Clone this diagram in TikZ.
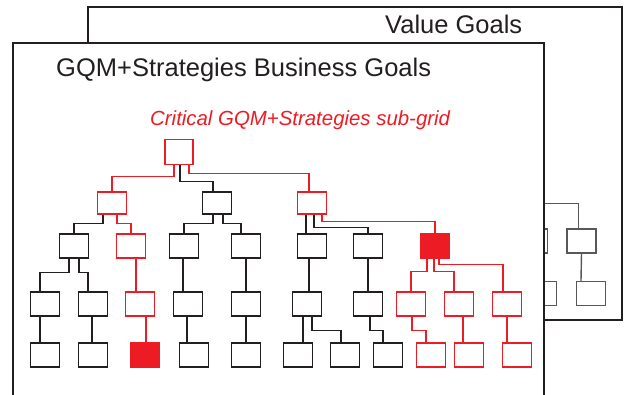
\documentclass[tikz,border=0pt]{standalone}
\usepackage{fontspec}
\setmainfont{Liberation Sans}
\usetikzlibrary{calc}
\definecolor{gred}{RGB}{237,28,36}
\definecolor{ink}{RGB}{35,31,32}
\definecolor{backgray}{RGB}{88,88,88}
\begin{document}
\begin{tikzpicture}[x=1pt, y=-1pt,
        goal/.style={draw=ink, line width=1.4pt, minimum width=29pt, minimum height=24pt, inner sep=0pt},
        crit/.style={goal, draw=gred},
        critfill/.style={crit, fill=gred},
        backgoal/.style={goal, draw=backgray},
        link/.style={draw=ink, line width=1.4pt},
        critlink/.style={draw=gred, line width=1.4pt},
        backlink/.style={draw=backgray, line width=1.4pt},
        title/.style={anchor=base west, inner sep=0pt, text=ink, font=\fontsize{25.5}{30}\selectfont}]
            \useasboundingbox (0,0) rectangle (635,394);

            % value goals (behind)
            \draw[ink, line width=1.4pt] (88,7) rectangle (622,320);
            \node[title] (valtitle) at (385,33) {Value Goals};
            \node[backgoal] (vp) at (470,191) {};
            \node[backgoal] (v0) at (533,241) {};
            \node[backgoal] (v1) at (581.5,241) {};
            \node[backgoal] (v2) at (591,293.5) {};
            \node[backgoal] (v3) at (542,293.5) {};
            \draw[backlink] (vp.south) -| ([xshift=-3pt]v1.north);
            \draw[backlink] (v1.south) -- ([xshift=-10pt]v2.north);
            \draw[backlink] (v0.south) -- (v3.north);

            % business goals (front)
            \draw[ink, line width=1.4pt, fill=white] (13,400) -- (13,43) -- (544,43) -- (544,400);
            \node[title] (bustitle) at (56,76) {GQM+Strategies Business Goals};
            \node[anchor=base west, inner sep=0pt, text=gred, font=\fontsize{20.4}{24}\selectfont\itshape] (subtitle) at (150,125) {Critical GQM+Strategies sub-grid};

            \node[crit, minimum width=28pt, minimum height=25pt] (t) at (179,152) {};

            \node[crit, minimum height=22pt] (a) at (112,203) {};
            \node[goal, minimum height=22pt] (b) at (217,203) {};
            \node[crit, minimum height=22pt] (c) at (312,203) {};

            \node[goal] (a1) at (74,246) {};
            \node[crit] (a2) at (131,246) {};
            \node[goal] (b1) at (184,246) {};
            \node[goal] (b2) at (246,246) {};
            \node[goal] (c1) at (312,246) {};
            \node[goal] (c2) at (368,246) {};
            \node[critfill] (c3) at (435,246) {};

            \node[goal] (a11) at (45,304) {};
            \node[goal] (a12) at (93,304) {};
            \node[crit] (a21) at (140,304) {};
            \node[goal] (b11) at (188,304) {};
            \node[goal] (b21) at (246,304) {};
            \node[goal] (c11) at (307,304) {};
            \node[goal] (c21) at (368,304) {};
            \node[crit] (c31) at (411,304) {};
            \node[crit] (c32) at (459,304) {};
            \node[crit] (c33) at (507,304) {};

            \node[goal] (a111) at (45,355) {};
            \node[goal] (a121) at (93,355) {};
            \node[critfill] (a211) at (145,355) {};
            \node[goal] (b111) at (194,355) {};
            \node[goal] (b211) at (246,355) {};
            \node[goal] (c111) at (298,355) {};
            \node[goal] (c112) at (345,355) {};
            \node[goal] (c211) at (388,355) {};
            \node[crit] (c311) at (431,355) {};
            \node[crit] (c321) at (469,355) {};
            \node[crit] (c331) at (517,355) {};

            \draw[critlink] ([xshift=-5pt]t.south) -- ++(0,11) -| (a.north);
            \draw[link] ([xshift=1pt]t.south) -- ++(0,16) -| ([xshift=-4pt]b.north);
            \draw[critlink] ([xshift=10pt]t.south) -- ++(0,8) -| ([xshift=-3pt]c.north);

            \draw[link] ([xshift=-9pt]a.south) -- ++(0,9) -| (a1.north);
            \draw[critlink] ([xshift=5pt]a.south) -- ++(0,9) -| (a2.north);
            \draw[link] ([xshift=-4pt]b.south) -- ++(0,9) -| (b1.north);
            \draw[link] ([xshift=6pt]b.south) -- ++(0,9) -| ([xshift=-5pt]b2.north);
            \draw[link] ([xshift=-6pt]c.south) -- ([xshift=-6pt]c1.north);
            \draw[link] ([xshift=2pt]c.south) -- ++(0,13) -| (c2.north);
            \draw[critlink] ([xshift=10pt]c.south) -- ++(0,7) -| (c3.north);

            \draw[link] ([xshift=-5pt]a1.south) -- ++(0,14) -| ([xshift=-5pt]a11.north);
            \draw[link] ([xshift=5pt]a1.south) -- ++(0,14) -| ([xshift=-5pt]a12.north);
            \draw[critlink] ([xshift=5pt]a2.south) -- ([xshift=-4pt]a21.north);
            \draw[link] ([xshift=-1pt]b1.south) -- ([xshift=-5pt]b11.north);
            \draw[link] (b2.south) -- (b21.north);
            \draw[link] ([xshift=-3pt]c1.south) -- ([xshift=2pt]c11.north);
            \draw[link] (c2.south) -- (c21.north);
            \draw[critlink] ([xshift=-8pt]c3.south) -- ++(0,13) -| (c31.north);
            \draw[critlink] ([xshift=-1pt]c3.south) -- ++(0,13) -| ([xshift=-5pt]c32.north);
            \draw[critlink] ([xshift=4pt]c3.south) -- ++(0,6) -| ([xshift=-4pt]c33.north);

            \draw[link] ([xshift=-5pt]a11.south) -- ([xshift=-5pt]a111.north);
            \draw[link] ([xshift=-1pt]a12.south) -- ([xshift=-1pt]a121.north);
            \draw[critlink] ([xshift=6pt]a21.south) -- ([xshift=1pt]a211.north);
            \draw[link] ([xshift=-1pt]b11.south) -- ([xshift=-7pt]b111.north);
            \draw[link] (b21.south) -- (b211.north);
            \draw[link] ([xshift=-4pt]c11.south) -- ([xshift=5pt]c111.north);
            \draw[link] ([xshift=5pt]c11.south) -- ++(0,14) -| ([xshift=-4pt]c112.north);
            \draw[link] ([xshift=2pt]c21.south) -- ++(0,14) -| ([xshift=-5pt]c211.north);
            \draw[critlink] ([xshift=1pt]c31.south) -- ++(0,14) -| ([xshift=-5pt]c311.north);
            \draw[critlink] ([xshift=4pt]c32.south) -- ([xshift=-6pt]c321.north);
            \draw[critlink] (c33.south) -- ([xshift=-10pt]c331.north);
        \end{tikzpicture}
\end{document}
